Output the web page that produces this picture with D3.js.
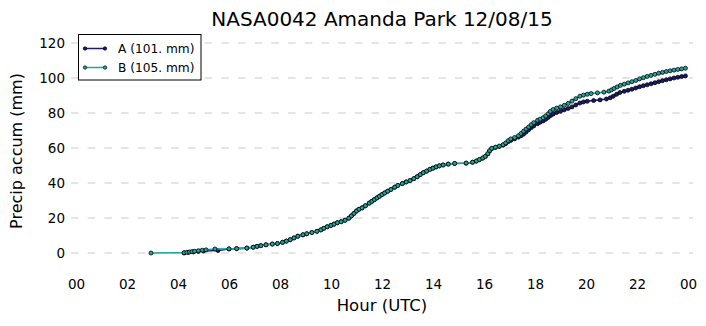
<!DOCTYPE html>
<html><head><meta charset="utf-8">
<script src="https://cdn.jsdelivr.net/npm/d3@7"></script>
<style>
html,body{margin:0;padding:0;background:#fff;}
svg{display:block;font-family:"DejaVu Sans",sans-serif;}
</style></head>
<body>
<svg id="c" width="706" height="326"></svg>
<script>
const title = "NASA0042 Amanda Park 12/08/15";
const xLabel = "Hour (UTC)";
const yLabel = "Precip accum (mm)";
const xTickValues = [0,2,4,6,8,10,12,14,16,18,20,22,24];
const xTickLabels = ["00","02","04","06","08","10","12","14","16","18","20","22","00"];
const yTickValues = [0,20,40,60,80,100,120];
const seriesNames = ["A (101. mm)","B (105. mm)"];
const seriesColors = ["#1c1c6e","#22a69e"];

// [hour, accumulated mm]
const seriesA = [[4.24,0],[4.4,0.3],[4.6,0.6],[4.8,0.9],[5.0,1.1],[5.57,1.4],[6.0,2.3],[6.3,2.5],[6.7,2.8],[6.95,3.3],[7.1,3.8],[7.25,4.2],[7.45,4.7],[7.7,5.1],[7.9,5.4],[8.1,6.1],[8.25,6.8],[8.4,7.6],[8.55,8.6],[8.7,9.6],[8.9,10.4],[9.05,11],[9.25,11.7],[9.45,12.4],[9.6,13.2],[9.72,14.1],[9.85,15],[10.0,15.8],[10.12,16.5],[10.25,17.3],[10.4,17.9],[10.55,18.7],[10.7,19.9],[10.8,21.2],[10.9,22.6],[11.0,24],[11.1,25],[11.22,25.8],[11.35,27],[11.5,28.5],[11.6,29.5],[11.7,30.5],[11.8,31.5],[11.9,32.4],[12.0,33.4],[12.1,34.3],[12.22,35.3],[12.35,36.3],[12.5,37.6],[12.62,38.6],[12.8,39.7],[12.95,40.6],[13.1,41.4],[13.25,42.5],[13.38,43.6],[13.5,44.8],[13.62,45.9],[13.75,46.8],[13.88,47.8],[14.0,48.5],[14.12,49.2],[14.25,49.8],[14.4,50.3],[14.6,50.8],[14.85,51.1],[15.3,51.3],[15.55,51.8],[15.7,52.5],[15.82,53.3],[15.95,54.2],[16.05,55.1],[16.15,56.6],[16.22,58.3],[16.3,59.6],[16.45,60.3],[16.6,60.9],[16.75,61.6],[16.85,62.5],[16.95,63.6],[17.05,64.3],[17.2,65.2],[17.35,66.2],[17.45,67],[17.55,67.9],[17.65,69.1],[17.75,70.4],[17.85,71.6],[17.95,72.6],[18.1,73.9],[18.2,74.7],[18.32,75.5],[18.42,76.4],[18.52,77.5],[18.62,78.6],[18.72,79.5],[18.85,80.3],[19.0,81],[19.15,81.8],[19.3,82.6],[19.45,83.5],[19.6,84.6],[19.76,85.7],[19.9,86.3],[20.05,86.7],[20.3,87.1],[20.55,87.5],[20.8,88],[20.95,88.7],[21.07,89.6],[21.2,90.7],[21.33,91.7],[21.5,92.4],[21.65,93],[21.8,93.6],[21.95,94.3],[22.1,95],[22.25,95.6],[22.4,96.1],[22.55,96.7],[22.7,97.3],[22.85,97.9],[23.0,98.5],[23.15,99],[23.3,99.5],[23.45,100],[23.6,100.4],[23.75,100.8],[23.9,101.2]];

const seriesB = [[2.94,0],[4.24,0.2],[4.35,0.4],[4.45,0.6],[4.55,0.8],[4.65,1.0],[4.8,1.3],[4.95,1.6],[5.1,1.8],[5.45,2.3],[6.0,2.4],[6.3,2.5],[6.7,2.8],[6.95,3.3],[7.1,3.8],[7.25,4.2],[7.45,4.7],[7.7,5.1],[7.9,5.4],[8.1,6.1],[8.25,6.8],[8.4,7.6],[8.55,8.6],[8.7,9.6],[8.9,10.4],[9.05,11],[9.25,11.7],[9.45,12.4],[9.6,13.2],[9.72,14.1],[9.85,15],[10.0,15.8],[10.12,16.5],[10.25,17.3],[10.4,17.9],[10.55,18.7],[10.7,19.9],[10.8,21.2],[10.9,22.6],[11.0,24],[11.1,25],[11.22,25.8],[11.35,27],[11.5,28.5],[11.6,29.5],[11.7,30.5],[11.8,31.5],[11.9,32.4],[12.0,33.4],[12.1,34.3],[12.22,35.3],[12.35,36.3],[12.5,37.6],[12.62,38.6],[12.8,39.7],[12.95,40.6],[13.1,41.4],[13.25,42.5],[13.38,43.6],[13.5,44.8],[13.62,45.9],[13.75,46.8],[13.88,47.8],[14.0,48.5],[14.12,49.2],[14.25,49.8],[14.4,50.3],[14.6,50.8],[14.85,51.2],[15.3,51.4],[15.55,51.9],[15.7,52.6],[15.82,53.4],[15.95,54.3],[16.05,55.2],[16.15,56.8],[16.22,58.5],[16.3,59.8],[16.45,60.5],[16.6,61.1],[16.75,61.9],[16.85,62.9],[16.95,64.2],[17.05,65.2],[17.2,66],[17.35,67],[17.45,68.3],[17.55,69.6],[17.65,70.8],[17.75,72],[17.85,73.3],[17.95,74.5],[18.1,75.8],[18.2,76.5],[18.32,77.3],[18.42,78.3],[18.52,79.6],[18.6,80.9],[18.71,82],[18.85,82.8],[19.0,83.5],[19.15,84.4],[19.3,85.5],[19.45,86.8],[19.6,88.2],[19.76,89.6],[19.9,90.2],[20.05,90.7],[20.2,91.1],[20.45,91.5],[20.7,91.9],[20.9,92.5],[21.0,93.2],[21.1,94],[21.22,94.9],[21.35,95.8],[21.5,96.5],[21.65,97.2],[21.8,97.9],[21.95,98.6],[22.1,99.5],[22.25,100.2],[22.4,100.9],[22.55,101.5],[22.7,102.1],[22.85,102.7],[23.0,103.2],[23.15,103.7],[23.3,104.1],[23.45,104.5],[23.6,104.9],[23.75,105.2],[23.9,105.6]];

const svg = d3.select("#c");
const x = d3.scaleLinear().domain([0,24]).range([76,688]);
const y = d3.scaleLinear().domain([0,120]).range([253,43]);
const gridLeft = 71, gridRight = 693;

// grid
svg.append("g").selectAll("line").data(yTickValues).join("line")
  .attr("x1", gridLeft).attr("x2", gridRight)
  .attr("y1", d=>y(d)).attr("y2", d=>y(d))
  .attr("stroke","#cbcbcb").attr("stroke-width",1)
  .attr("stroke-dasharray","7.5,9.2");

// y axis
const ya = svg.append("g").attr("transform",`translate(${gridLeft},0)`)
  .call(d3.axisLeft(y).tickValues(yTickValues).tickSize(0).tickPadding(6));
ya.select(".domain").remove();
ya.selectAll("text").attr("font-size","13.5px").attr("font-family","DejaVu Sans").attr("fill","#000");

// x axis
const xa = svg.append("g").attr("transform",`translate(0,270)`)
  .call(d3.axisBottom(x).tickValues(xTickValues).tickFormat((d,i)=>xTickLabels[i]).tickSize(0).tickPadding(9.4));
xa.select(".domain").remove();
xa.selectAll("text").attr("font-size","13.5px").attr("font-family","DejaVu Sans").attr("fill","#000");

// series
const line = d3.line().x(d=>x(d[0])).y(d=>y(d[1]));
[seriesA, seriesB].forEach((s,i)=>{
  const g = svg.append("g");
  g.append("path").datum(s).attr("d",line).attr("fill","none")
    .attr("stroke",seriesColors[i]).attr("stroke-width",1.6);
  g.selectAll("circle").data(s).join("circle")
    .attr("cx",d=>x(d[0])).attr("cy",d=>y(d[1])).attr("r",2)
    .attr("fill",seriesColors[i]).attr("stroke","#000").attr("stroke-width",0.8);
});

// legend
const lg = svg.append("g");
lg.append("rect").attr("x",78.5).attr("y",34.5).attr("width",122.5).attr("height",45.5)
  .attr("fill","#fff").attr("stroke","#000").attr("stroke-width",1);
seriesNames.forEach((n,i)=>{
  const ly = 48.5 + i*19;
  lg.append("line").attr("x1",85).attr("x2",105).attr("y1",ly).attr("y2",ly)
    .attr("stroke",seriesColors[i]).attr("stroke-width",1.5);
  [85,105].forEach(px=>lg.append("circle").attr("cx",px).attr("cy",ly).attr("r",1.7)
    .attr("fill",seriesColors[i]).attr("stroke","#000").attr("stroke-width",0.7));
  lg.append("text").attr("x",118).attr("y",ly+4.3).attr("font-size","12.2px").text(n);
});

// labels
svg.append("text").attr("x",382).attr("y",26).attr("text-anchor","middle")
  .attr("font-size","20px").text(title);
svg.append("text").attr("x",382).attr("y",311).attr("text-anchor","middle")
  .attr("font-size","16.5px").text(xLabel);
svg.append("text").attr("transform","translate(22,151) rotate(-90)").attr("text-anchor","middle")
  .attr("font-size","16px").text(yLabel);
</script>
</body></html>
